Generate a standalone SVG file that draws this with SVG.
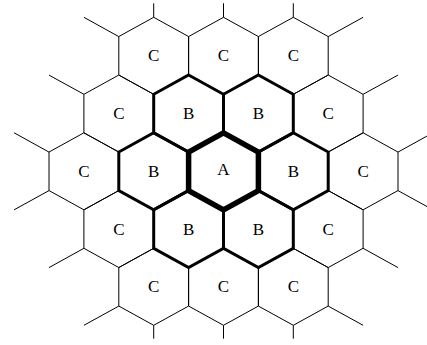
<svg xmlns="http://www.w3.org/2000/svg" xmlns:xlink="http://www.w3.org/1999/xlink" width="427" height="345" viewBox="0 0 427 345">
<style>
.hex{fill:none;stroke:#000;stroke-linejoin:miter}
.c{stroke-width:1}
.b{stroke-width:3}
.a{stroke-width:5.5}
.lbl{font-family:"Liberation Serif","Times New Roman",serif;font-size:17px;fill:#000;text-anchor:middle}
.tail{stroke:#000;stroke-width:1;fill:none}
</style>
<defs>
<polygon id="hex" points="0,-38.5 34.9,-19.25 34.9,19.25 0,38.5 -34.9,19.25 -34.9,-19.25"/>
</defs>
<rect width="427" height="345" fill="#fff"/>
<g id="connectors">
<line class="tail" x1="153.7" y1="17.3" x2="153.7" y2="3.3"/>
<line class="tail" x1="223.5" y1="17.3" x2="223.5" y2="3.3"/>
<line class="tail" x1="293.3" y1="17.3" x2="293.3" y2="3.3"/>
<line class="tail" x1="118.8" y1="36.6" x2="83.9" y2="17.3"/>
<line class="tail" x1="328.2" y1="36.6" x2="363.1" y2="17.3"/>
<line class="tail" x1="83.9" y1="94.3" x2="49" y2="75.1"/>
<line class="tail" x1="363.1" y1="94.3" x2="398" y2="75.1"/>
<line class="tail" x1="49" y1="152.1" x2="14.1" y2="132.8"/>
<line class="tail" x1="398" y1="152.1" x2="432.9" y2="132.8"/>
<line class="tail" x1="49" y1="190.6" x2="14.1" y2="209.8"/>
<line class="tail" x1="398" y1="190.6" x2="432.9" y2="209.8"/>
<line class="tail" x1="83.9" y1="248.3" x2="49" y2="267.6"/>
<line class="tail" x1="363.1" y1="248.3" x2="398" y2="267.6"/>
<line class="tail" x1="118.8" y1="306.1" x2="83.9" y2="325.3"/>
<line class="tail" x1="328.2" y1="306.1" x2="363.1" y2="325.3"/>
<line class="tail" x1="153.7" y1="325.3" x2="153.7" y2="338.7"/>
<line class="tail" x1="223.5" y1="325.3" x2="223.5" y2="338.7"/>
<line class="tail" x1="293.3" y1="325.3" x2="293.3" y2="338.7"/>
</g>
<g id="c1" transform="translate(153.7,55.8)"><use xlink:href="#hex" class="hex c"/><text class="lbl" y="5.5">C</text></g>
<g id="c2" transform="translate(223.5,55.8)"><use xlink:href="#hex" class="hex c"/><text class="lbl" y="5.5">C</text></g>
<g id="c3" transform="translate(293.3,55.8)"><use xlink:href="#hex" class="hex c"/><text class="lbl" y="5.5">C</text></g>
<g id="c4" transform="translate(118.8,113.55)"><use xlink:href="#hex" class="hex c"/><text class="lbl" y="5.5">C</text></g>
<g id="c5" transform="translate(328.2,113.55)"><use xlink:href="#hex" class="hex c"/><text class="lbl" y="5.5">C</text></g>
<g id="c6" transform="translate(83.9,171.3)"><use xlink:href="#hex" class="hex c"/><text class="lbl" y="5.5">C</text></g>
<g id="c7" transform="translate(363.1,171.3)"><use xlink:href="#hex" class="hex c"/><text class="lbl" y="5.5">C</text></g>
<g id="c8" transform="translate(118.8,229.05)"><use xlink:href="#hex" class="hex c"/><text class="lbl" y="5.5">C</text></g>
<g id="c9" transform="translate(328.2,229.05)"><use xlink:href="#hex" class="hex c"/><text class="lbl" y="5.5">C</text></g>
<g id="c10" transform="translate(153.7,286.8)"><use xlink:href="#hex" class="hex c"/><text class="lbl" y="5.5">C</text></g>
<g id="c11" transform="translate(223.5,286.8)"><use xlink:href="#hex" class="hex c"/><text class="lbl" y="5.5">C</text></g>
<g id="c12" transform="translate(293.3,286.8)"><use xlink:href="#hex" class="hex c"/><text class="lbl" y="5.5">C</text></g>
<g id="b1" transform="translate(188.6,113.55)"><use xlink:href="#hex" class="hex b"/><text class="lbl" y="5.5">B</text></g>
<g id="b2" transform="translate(258.4,113.55)"><use xlink:href="#hex" class="hex b"/><text class="lbl" y="5.5">B</text></g>
<g id="b3" transform="translate(153.7,171.3)"><use xlink:href="#hex" class="hex b"/><text class="lbl" y="5.5">B</text></g>
<g id="b4" transform="translate(293.3,171.3)"><use xlink:href="#hex" class="hex b"/><text class="lbl" y="5.5">B</text></g>
<g id="b5" transform="translate(188.6,229.05)"><use xlink:href="#hex" class="hex b"/><text class="lbl" y="5.5">B</text></g>
<g id="b6" transform="translate(258.4,229.05)"><use xlink:href="#hex" class="hex b"/><text class="lbl" y="5.5">B</text></g>
<g id="a" transform="translate(223.5,171.3)"><use xlink:href="#hex" class="hex a"/><text class="lbl" y="4">A</text></g>
</svg>
